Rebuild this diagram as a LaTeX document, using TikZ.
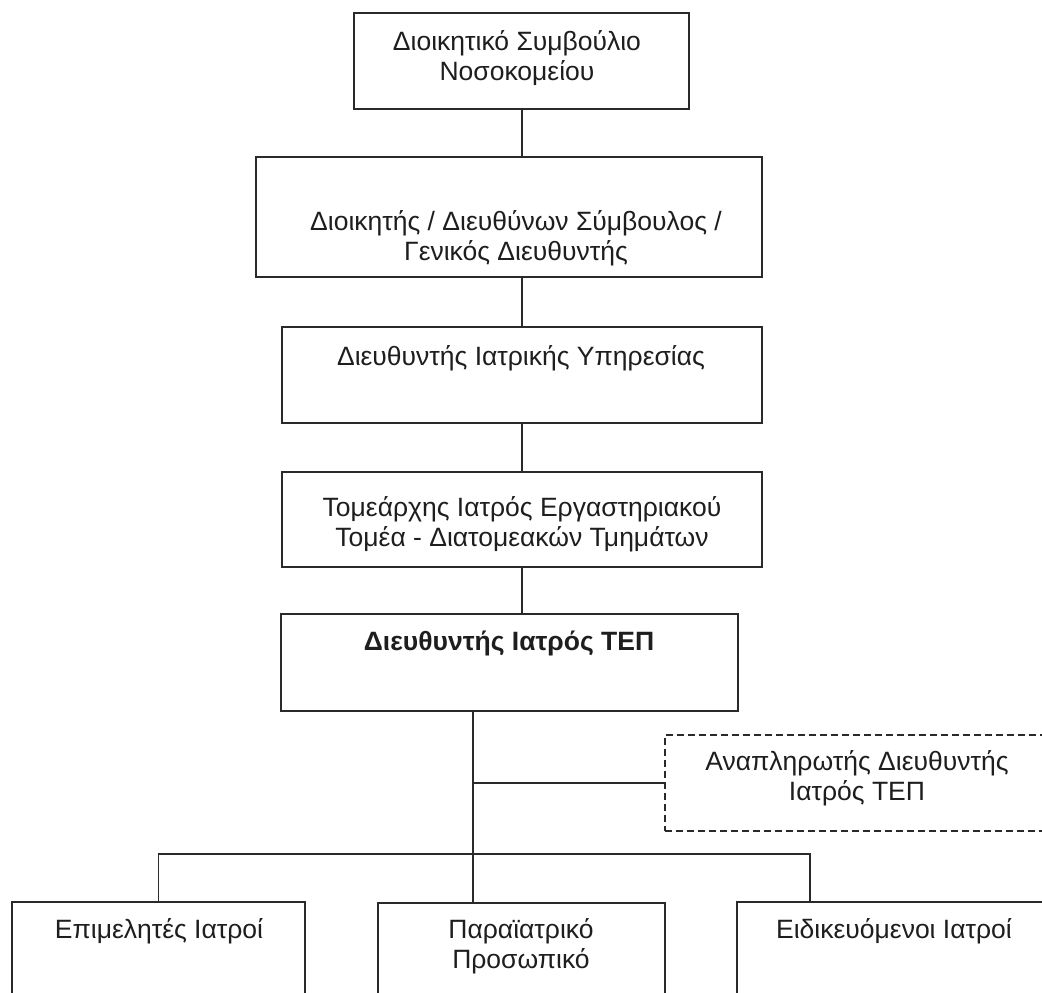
\documentclass[tikz,border=0pt]{standalone}
\usepackage{fontspec}
\setmainfont{Liberation Sans}
\definecolor{linec}{HTML}{2A2A2A}
\definecolor{txtc}{HTML}{1E1E1E}
\begin{document}
\begin{tikzpicture}[x=1pt,y=-1pt,
  box/.style={draw=linec, line width=1.6pt, inner sep=0pt, outer sep=0pt, anchor=north west},
  dbox/.style={box, dash pattern=on 7pt off 4pt},
  lbl/.style={align=center, anchor=base, text=txtc, font=\fontsize{26.5}{30}\selectfont, inner sep=0pt},
  conn/.style={draw=linec, line width=1.6pt, line join=miter}]
\useasboundingbox (0,0) rectangle (1042,993);
\fill[white] (0,0) rectangle (1042,993);
\begin{scope}
\clip (0,0) rectangle (1042,993);
% boxes
\node[box, minimum width=335pt, minimum height=96pt] (b1) at (354,13) {};
\node[box, minimum width=506pt, minimum height=120pt] (b2) at (256,157) {};
\node[box, minimum width=480pt, minimum height=96pt] (b3) at (282,327) {};
\node[box, minimum width=480pt, minimum height=95pt] (b4) at (282,472) {};
\node[box, minimum width=457pt, minimum height=97pt] (b5) at (281,614) {};
\node[dbox, minimum width=385pt, minimum height=96pt] (d) at (665,735) {};
\node[box, minimum width=293pt, minimum height=120pt] (L) at (12,902) {};
\node[box, minimum width=287pt, minimum height=120pt] (M) at (378,903) {};
\node[box, minimum width=315pt, minimum height=120pt] (R) at (737,902) {};
% labels (anchor base = baseline of the last line)
\node[lbl] (t1) at (517,80) {Διοικητικό Συμβούλιο\\Νοσοκομείου};
\node[lbl] (t2) at (516,260) {Διοικητής / Διευθύνων Σύμβουλος /\\Γενικός Διευθυντής};
\node[lbl] (t3) at (521,365) {Διευθυντής Ιατρικής Υπηρεσίας};
\node[lbl] (t4) at (522,546) {Τομεάρχης Ιατρός Εργαστηριακού\\Τομέα - Διατομεακών Τμημάτων};
\node[lbl, font=\fontsize{26.5}{30}\selectfont\bfseries] (t5) at (509,650) {Διευθυντής Ιατρός ΤΕΠ};
\node[lbl] (td) at (857,800) {Αναπληρωτής Διευθυντής\\Ιατρός ΤΕΠ};
\node[lbl] (tL) at (159,938) {Επιμελητές Ιατροί};
\node[lbl] (tM) at (521,968) {Παραϊατρικό\\Προσωπικό};
\node[lbl] (tR) at (894,938) {Ειδικευόμενοι Ιατροί};
% connectors
\coordinate (cx) at (522,0);
\coordinate (j1) at (473,783);
\coordinate (j2) at (473,854);
\coordinate (j3) at (810,854);
\draw[conn] (cx |- b1.south) -- (cx |- b2.north);
\draw[conn] (cx |- b2.south) -- (cx |- b3.north);
\draw[conn] (cx |- b3.south) -- (cx |- b4.north);
\draw[conn] (cx |- b4.south) -- (cx |- b5.north);
\draw[conn] (j1 |- b5.south) -- (j2);
\draw[conn] (j1) -- (j1 -| d.west);
\draw[conn] (L.north) -- (L.north |- j2) -- (j3) -- (j3 |- R.north);
\draw[conn] (j2) -- (j2 |- M.north);
\end{scope}
\end{tikzpicture}
\end{document}
